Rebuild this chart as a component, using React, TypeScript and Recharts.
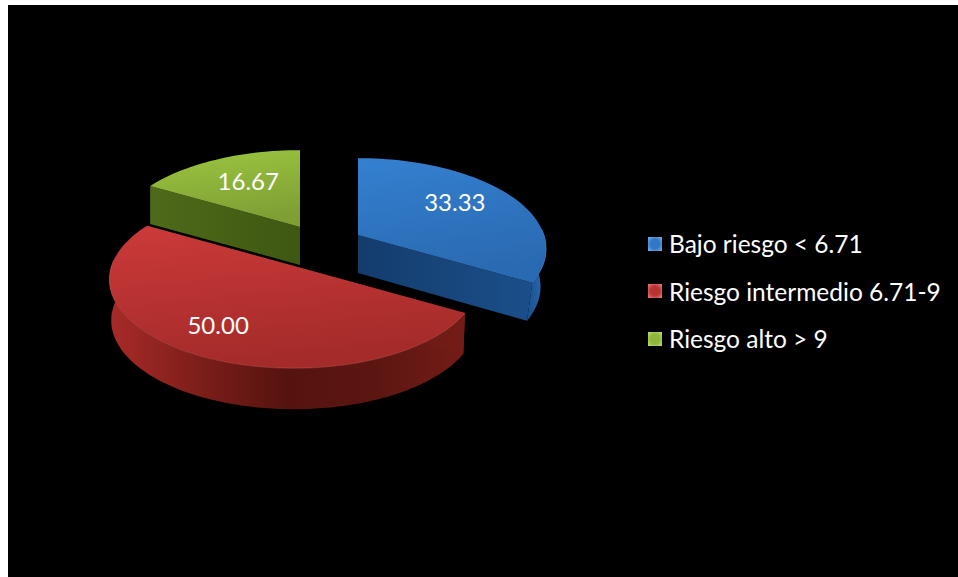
import React from "react";
import { PieChart, Pie, Legend } from "recharts";

const categories = ["Bajo riesgo < 6.71", "Riesgo intermedio 6.71-9", "Riesgo alto > 9"];
const values = [33.33, 50.0, 16.67];
const fills = ["#2f78c6", "#b93232", "#8fb53a"];

const tableData = categories.map((name, i) => ({ name, value: values[i], fill: fills[i] }));

// projection of the flat pie onto a tilted plane
const SQUASH = 87.5 / 184;
const PERSPECTIVE = 0.151;
const DEPTHS = [38, 41, 38];
const SHRINK = [0.97, 0.99, 1];
const EXPLODE = [
  { x: 48, y: -5, r: 186 },
  { x: -16, y: 26, r: 182.5 },
  { x: -10, y: -13, r: 186 },
];
const LABEL_R = [0.63, 0.75, 0.6];
const LABEL_LIFT = [7, 4, 4];
const TOP_STOPS = [
  ["#3480d0", "#2a6ab2"],
  ["#cc3a3a", "#a42b29"],
  ["#9cc63f", "#7f9f35"],
];
const CUT_STOPS = [
  ["#143c6c", "#1b4f8a"],
  ["#5c1612", "#741c17"],
  ["#4f6a1a", "#3f5712"],
];
const WALL_STOPS = [
  ["#1b4f8c", "#2a6cb6"],
  ["#a82b27", "#7d1e1a", "#55130f", "#5c1612", "#741c17"],
  ["#4f6a1a", "#4f6a1a"],
];
const RIM = ["#5a9ae0", "#e06a66", "#b8d860"];

const project = (deg: number, r: number, radius: number, depth = 0, shrink = 1) => {
  const t = (deg * Math.PI) / 180;
  const u = Math.cos(t) * r;
  const v = Math.sin(t) * r;
  const w = 1 + PERSPECTIVE * v;
  return { x: (radius * shrink * u) / w, y: (-radius * SQUASH * v) / w + depth };
};

const toPath = (pts: { x: number; y: number }[], close = true) =>
  pts.map((p, i) => `${i ? "L" : "M"}${p.x.toFixed(1)} ${p.y.toFixed(1)}`).join(" ") + (close ? " Z" : "");

const Slice = (props: any) => {
  const { cx, cy, outerRadius, startAngle, endAngle, index } = props;
  const i = index ?? 0;
  const off = EXPLODE[i];
  const radius = (outerRadius * off.r) / 184;
  const depth = DEPTHS[i];
  const ox = cx + off.x;
  const oy = cy + off.y;
  const P = (a: number, r: number, d = 0) => project(a, r, radius, d, d ? SHRINK[i] : 1);
  const angles: number[] = [];
  const steps = Math.ceil(Math.abs(endAngle - startAngle) / 2);
  for (let k = 0; k <= steps; k++) angles.push(startAngle + ((endAngle - startAngle) * k) / steps);
  const rim = angles.map((a) => P(a, 1));
  const front = angles.filter((a) => Math.sin((a * Math.PI) / 180) <= 0.08);
  const wall = front.length
    ? [...front.map((a) => P(a, 1)), ...[...front].reverse().map((a) => P(a, 1, depth))]
    : [];
  const cut = (a: number) => [P(0, 0), P(a, 1), P(a, 1, depth), P(0, 0, depth)];
  const wallStops = WALL_STOPS[i];
  return (
    <g transform={`translate(${ox},${oy})`}>
      <defs>
        <linearGradient id={`top${i}`} x1="0" y1="0" x2="0.25" y2="1">
          <stop offset="0" stopColor={TOP_STOPS[i][0]} />
          <stop offset="1" stopColor={TOP_STOPS[i][1]} />
        </linearGradient>
        <linearGradient id={`cut${i}`} x1="0" y1="0" x2="1" y2="0">
          <stop offset="0" stopColor={CUT_STOPS[i][0]} />
          <stop offset="1" stopColor={CUT_STOPS[i][1]} />
        </linearGradient>
        <linearGradient id={`wall${i}`} x1="0" y1="0" x2="1" y2="0">
          {wallStops.map((c, k) => (
            <stop key={k} offset={k / (wallStops.length - 1)} stopColor={c} />
          ))}
        </linearGradient>
      </defs>
      {wall.length > 0 && <path d={toPath(wall)} fill={`url(#wall${i})`} />}
      <path d={toPath(cut(startAngle))} fill={`url(#cut${i})`} />
      <path d={toPath(cut(endAngle))} fill={`url(#cut${i})`} />
      <path d={toPath([P(0, 0), ...rim])} fill={`url(#top${i})`} />
      {front.length > 0 && (
        <path d={toPath(front.map((a) => P(a, 1)), false)} fill="none" stroke={RIM[i]} strokeWidth={1} strokeOpacity={0.35} />
      )}
    </g>
  );
};

const SliceLabel = (props: any) => {
  const { cx, cy, outerRadius, midAngle, index, value } = props;
  const off = EXPLODE[index];
  const p = project(midAngle, LABEL_R[index], (outerRadius * off.r) / 184);
  return (
    <text
      x={cx + off.x + p.x}
      y={cy + off.y + p.y - LABEL_LIFT[index]}
      fill="#ffffff"
      fontFamily="Lato"
      fontSize={24}
      textAnchor="middle"
      dominantBaseline="central"
    >
      {Number(value).toFixed(2)}
    </text>
  );
};

const SWATCH_EDGE = ["#7fb2ea", "#ec8482", "#c4de72"];

const LegendRows = ({ payload }: any) => (
  <div style={{ display: "flex", flexDirection: "column" }}>
    {(payload || []).map((entry: any, i: number) => (
      <div key={i} style={{ display: "flex", alignItems: "center", height: 47.5, whiteSpace: "nowrap" }}>
        <span
          style={{
            width: 14,
            height: 14,
            marginRight: 7,
            display: "inline-block",
            background: `radial-gradient(circle, ${entry.color} 45%, ${SWATCH_EDGE[i]} 100%)`,
          }}
        />
        <span style={{ color: "#ffffff", fontFamily: "Lato", fontSize: 24.5 }}>{entry.value}</span>
      </div>
    ))}
  </div>
);

export default function App() {
  return (
    <div style={{ position: "fixed", left: 8, top: 5, width: 950, height: 572, background: "#000000" }}>
      <PieChart width={950} height={572} margin={{ top: 0, right: 0, bottom: 0, left: 0 }}>
        <Pie
          data={tableData}
          dataKey="value"
          nameKey="name"
          cx={302}
          cy={235}
          outerRadius={184}
          startAngle={90}
          endAngle={-270}
          stroke="none"
          isAnimationActive={false}
          labelLine={false}
          label={SliceLabel}
          shape={Slice}
        />
        <Legend
          layout="vertical"
          align="right"
          verticalAlign="top"
          itemSorter={null}
          content={LegendRows}
          wrapperStyle={{ position: "absolute", left: 640, top: 215, width: 300 }}
        />
      </PieChart>
    </div>
  );
}
